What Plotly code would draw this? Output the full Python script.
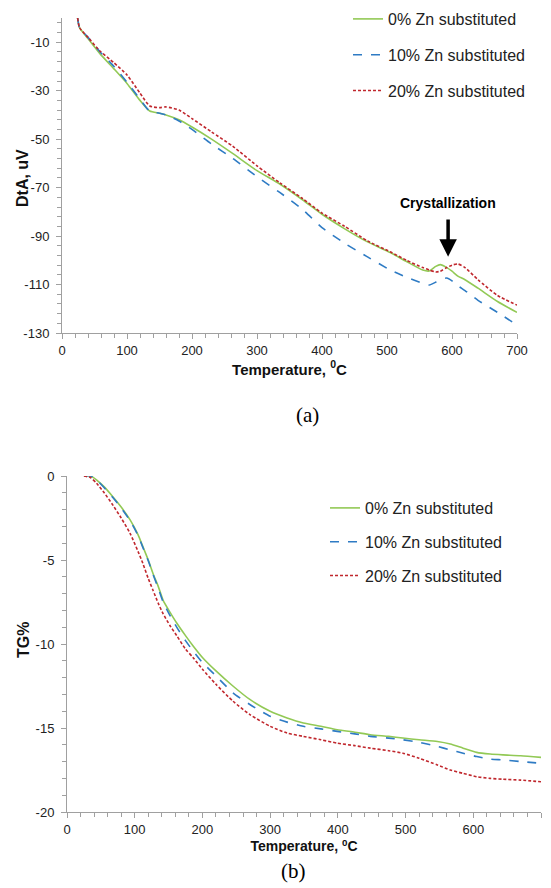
import plotly.graph_objects as go

# ---------------- DTA data (panel a) ----------------
T_dta = [24, 27, 40, 58, 80, 100, 120, 135, 150, 160, 180, 200, 230, 263, 300, 335, 370,
         400, 435, 470, 505, 530, 555, 565, 575, 582, 592, 600, 609, 620, 640, 670, 700]
dta_0 = [0, -4, -8.5, -14.6, -21, -27, -34, -38.4, -39.3, -40, -42, -45, -50, -56, -63, -68.5, -75,
         -81, -87, -92.4, -96.8, -100.5, -104, -104.4, -102.5, -101.8, -103, -104.5, -106.5, -108,
         -111.5, -117, -121.5]
dta_10 = [0, -4, -8, -13.8, -20, -26.5, -33.5, -38.4, -39.3, -40, -42.5, -46, -52, -58, -65.5, -72, -79,
          -86.5, -93, -98.6, -104, -107, -109.5, -110.2, -109, -108, -107.3, -108.5, -110.5, -112.5,
          -116.5, -121.5, -126.7]
dta_20 = [0, -4, -8, -13.5, -18.5, -23.5, -31, -36.3, -37, -36.7, -38, -41.5, -47, -53, -61, -68, -74.5,
          -80.5, -86, -92, -96.5, -100, -103, -104, -104.8, -104.5, -103, -102, -101.5, -103,
          -108, -114.5, -118.5]
dta_ticks = [-10, -30, -50, -70, -90, -110, -130]
dta_ticklabels = ["-10", "-30", "-50", "-70", "-90", "-110", "-130"]

# ---------------- TG data (panel b) ----------------
T_tg = [25, 35, 44, 55, 68, 80, 93, 105, 112, 120, 127, 135, 142, 152, 162, 175, 186, 200, 220,
        245, 270, 300, 325, 349, 375, 399, 425, 448, 475, 496, 520, 547, 566, 585, 605, 625, 644,
        670, 700]
tg_0 = [0, 0, -0.24, -0.65, -1.25, -1.85, -2.6, -3.5, -4.2, -5.0, -5.8, -6.6, -7.4, -8.1, -8.75,
        -9.5, -10.1, -10.8, -11.6, -12.5, -13.3, -14.0, -14.4, -14.7, -14.9, -15.1, -15.25, -15.4,
        -15.5, -15.6, -15.7, -15.8, -15.95, -16.2, -16.45, -16.55, -16.6, -16.65, -16.75]
tg_10 = [0, 0, -0.25, -0.7, -1.3, -1.9, -2.65, -3.55, -4.25, -5.05, -5.85, -6.7, -7.5, -8.3, -9.0,
         -9.8, -10.4, -11.1, -11.9, -12.9, -13.6, -14.3, -14.65, -14.9, -15.05, -15.2, -15.35, -15.5,
         -15.6, -15.7, -15.85, -16.1, -16.3, -16.5, -16.7, -16.85, -16.9, -17.0, -17.1]
tg_20 = [0, -0.1, -0.45, -1.0, -1.75, -2.5, -3.4, -4.5, -5.2, -6.1, -6.8, -7.6, -8.2, -8.9, -9.5,
         -10.3, -10.8, -11.5, -12.4, -13.4, -14.2, -14.9, -15.3, -15.5, -15.7, -15.9, -16.05, -16.2,
         -16.35, -16.5, -16.8, -17.2, -17.5, -17.7, -17.9, -18.0, -18.05, -18.1, -18.2]
tg_ticks = [0, -5, -10, -15, -20]
tg_ticklabels = ["0", "-5", "-10", "-15", "-20"]

names = ["0% Zn substituted", "10% Zn substituted", "20% Zn substituted"]
colors = ["#92C955", "#2E7BC4", "#C0272D"]
dashes = ["solid", "dash", "3px,2px"]

FONT = "Liberation Sans, Arial, sans-serif"
AXC = "#A0A0A0"

fig = go.Figure()
for i, ys in enumerate([dta_0, dta_10, dta_20]):
    fig.add_trace(go.Scatter(x=T_dta, y=ys, mode="lines", name=names[i], legend="legend",
                             legendgroup="a%d" % i,
                             line=dict(color=colors[i], dash=dashes[i], width=1.6, shape="spline",
                                       smoothing=0.6),
                             xaxis="x", yaxis="y"))
for i, ys in enumerate([tg_0, tg_10, tg_20]):
    fig.add_trace(go.Scatter(x=T_tg, y=ys, mode="lines", name=names[i], legend="legend2",
                             legendgroup="b%d" % i,
                             line=dict(color=colors[i], dash=dashes[i], width=1.6, shape="spline",
                                       smoothing=0.6),
                             xaxis="x2", yaxis="y2"))

W, H = 551, 888
def px(x):
    return x / W
def py(y):
    return 1 - y / H

axis_common = dict(showline=True, linecolor=AXC, linewidth=1, showgrid=False, zeroline=False,
                   ticks="outside", ticklen=5, tickcolor=AXC, automargin=False,
                   tickfont=dict(family=FONT, size=13, color="#222222"))

fig.update_layout(
    width=W, height=H, margin=dict(l=0, r=0, t=0, b=0, autoexpand=False),
    paper_bgcolor="white", plot_bgcolor="white",
    xaxis=dict(domain=[px(62), px(517)], range=[0, 700], dtick=100, tick0=0, anchor="y",
               minor=dict(ticks="outside", ticklen=4, tickcolor=AXC, dtick=20),
               title=dict(text="<b>Temperature, <sup>0</sup>C</b>", standoff=7,
                          font=dict(family=FONT, size=15, color="#111111")),
               **axis_common),
    yaxis=dict(domain=[py(333), py(18)], range=[-130, 0], tickmode="array",
               tickvals=dta_ticks, ticktext=dta_ticklabels, anchor="x",
               minor=dict(ticks="outside", ticklen=4, tickcolor=AXC, dtick=4, tick0=-130),
               ticklabelstandoff=4,
               **axis_common),
    xaxis2=dict(domain=[px(67), px(541)], range=[0, 700], dtick=100, tick0=0, anchor="y2",
                minor=dict(ticks="outside", ticklen=4, tickcolor=AXC, dtick=20),
                title=dict(text="<b>Temperature, <sup>0</sup>C</b>", standoff=2,
                           font=dict(family=FONT, size=14, color="#111111")),
                **axis_common),
    yaxis2=dict(domain=[py(812), py(476)], range=[-20, 0], tickmode="array",
                tickvals=tg_ticks, ticktext=tg_ticklabels, anchor="x2",
                minor=dict(ticks="outside", ticklen=4, tickcolor=AXC, dtick=1, tick0=-20),
                ticklabelstandoff=4,
                **axis_common),
    legend=dict(x=px(348), y=py(2), xanchor="left", yanchor="top", bgcolor="rgba(0,0,0,0)",
                font=dict(family=FONT, size=16, color="#222222"), tracegroupgap=12,
                itemwidth=30),
    legend2=dict(x=px(325), y=py(491), xanchor="left", yanchor="top", bgcolor="rgba(0,0,0,0)",
                 font=dict(family=FONT, size=16, color="#222222"), tracegroupgap=10,
                 itemwidth=30),
    showlegend=True,
)

# y-axis titles
fig.add_annotation(x=px(22), y=py(178), xref="paper", yref="paper", text="<b>DtA, uV</b>",
                   textangle=-90, showarrow=False, xanchor="center", yanchor="middle",
                   font=dict(family=FONT, size=16, color="#111111"))
fig.add_annotation(x=px(23), y=py(640), xref="paper", yref="paper", text="<b>TG%</b>",
                   textangle=-90, showarrow=False, xanchor="center", yanchor="middle",
                   font=dict(family=FONT, size=16, color="#111111"))

# Crystallization arrow + label
fig.add_annotation(x=594, y=-98.5, ax=594, ay=-82.5, xref="x", yref="y", axref="x", ayref="y",
                   text="", showarrow=True, arrowhead=2, arrowsize=1, arrowwidth=3.5,
                   arrowcolor="black")
fig.add_annotation(x=594, y=-80.3, xref="x", yref="y", text="<b>Crystallization</b>",
                   showarrow=False, yanchor="bottom", xanchor="center",
                   font=dict(family=FONT, size=14, color="black"))

# panel labels
fig.add_annotation(x=px(307), y=py(415), xref="paper", yref="paper", text="(a)",
                   showarrow=False, xanchor="center", yanchor="middle",
                   font=dict(family="Liberation Serif, Times New Roman, serif",
                             size=21, color="black"))
fig.add_annotation(x=px(293), y=py(871), xref="paper", yref="paper", text="(b)",
                   showarrow=False, xanchor="center", yanchor="middle",
                   font=dict(family="Liberation Serif, Times New Roman, serif",
                             size=21, color="black"))

fig.write_html("out.html")
